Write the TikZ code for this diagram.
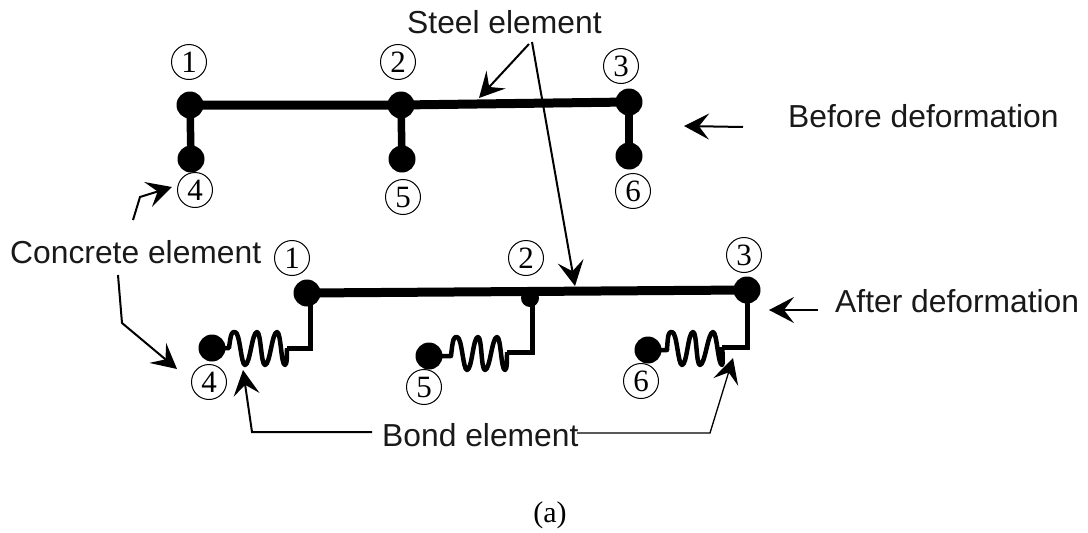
\documentclass[tikz,border=0pt]{standalone}
\usepackage{fontspec}
\setmainfont{Liberation Serif}
\newfontfamily\lab{Liberation Sans}
\usetikzlibrary{arrows.meta}
\tikzset{
  x=1pt,y=-1pt,
  lbl/.style={font=\lab\fontsize{31.8}{34}\selectfont,inner sep=0pt,anchor=base west,text=black!90},
  num/.style={circle,draw,line width=1pt,minimum size=35pt,inner sep=0pt,font=\fontsize{31}{32}\selectfont},
  joint/.style={circle,fill=black,minimum size=27pt,inner sep=0pt},
  smalljoint/.style={circle,fill=black,minimum size=18pt,inner sep=0pt},
  bar/.style={line width=9pt},
  rod/.style={line width=7.5pt},
  stem/.style={line width=5pt,line join=miter},
  springline/.style={line width=4.5pt,line join=round},
  ann/.style={line width=2pt,-{Stealth[length=25pt,width=26pt,inset=10pt]},line join=miter},
  annthin/.style={line width=1.3pt,-{Stealth[length=25pt,width=26pt,inset=10pt]}},
}
\newcommand{\dg}[1]{\raisebox{-2pt}{#1}}
\begin{document}
\begin{tikzpicture}
\useasboundingbox (0,0) rectangle (1088,533);
% top row
\node[joint] (t1) at (190,105) {};
\node[joint] (t2) at (401,105) {};
\node[joint] (t3) at (629,102) {};
\node[joint] (t4) at (191,159) {};
\node[joint] (t5) at (402,159) {};
\node[joint] (t6) at (629,156) {};
\draw[bar] (t1.center) -- (t2.center) -- (t3.center);
\draw[rod] (t1.center) -- (t4.center);
\draw[rod] (t2.center) -- (t5.center);
\draw[rod] (t3.center) -- (t6.center);
\node[num] (n1) at (189,62) {\dg{1}};
\node[num] (n2) at (398,62) {\dg{2}};
\node[num] (n3) at (621,66) {\dg{3}};
\node[num] (n4) at (195,190) {\dg{4}};
\node[num] (n5) at (403,197) {\dg{5}};
\node[num] (n6) at (633,191) {\dg{6}};
% bottom row
\node[joint] (b1) at (307,293) {};
\node[smalljoint] (b2) at (530,298) {};
\node[joint] (b3) at (747,290) {};
\node[joint] (b4) at (212,348) {};
\node[joint] (b5) at (429,356) {};
\node[joint] (b6) at (648,350) {};
\draw[bar] (b1.center) -- (b3.center);
\node[num] (m1) at (292,258) {\dg{1}};
\node[num] (m2) at (526,258) {\dg{2}};
\node[num] (m3) at (744,255) {\dg{3}};
\node[num] (m4) at (209,382) {\dg{4}};
\node[num] (m5) at (424,387) {\dg{5}};
\node[num] (m6) at (641,381) {\dg{6}};
% springs
\coordinate (s1) at (310,348);
\coordinate (s2) at (532,352);
\coordinate (s3) at (747,347);
\draw[stem] (b1.center -| s1) -- (s1) -- (287,348);
\draw[stem] (b2.center -| s2) -- (s2) -- (507,352);
\draw[stem] (b3.center) -- (s3) -- (722,347);
\draw[springline] (b4.center) -- (229,348) .. controls (231,332) and (232,332) .. (235,332) .. controls (240,332) and (241,365) .. (245,365) .. controls (250,365) and (252,332) .. (257,332) .. controls (261,332) and (261,365) .. (265,365) .. controls (270,365) and (272,332) .. (277,332) .. controls (281,332) and (281,365) .. (285,365) .. controls (287,365) and (287,355) .. (287,348);
\draw[springline] (b5.center) -- (451,356) .. controls (453,337) and (454,337) .. (457,337) .. controls (462,337) and (463,370) .. (467,370) .. controls (472,370) and (473,337) .. (478,337) .. controls (482,337) and (481,370) .. (485,370) .. controls (490,370) and (492,337) .. (497,337) .. controls (501,337) and (501,370) .. (505,370) .. controls (507,370) and (507,360) .. (507,352);
\draw[springline] (b6.center) -- (667,350) .. controls (668,332) and (669,332) .. (672,332) .. controls (677,332) and (678,365) .. (682,365) .. controls (687,365) and (688,332) .. (693,332) .. controls (697,332) and (696,365) .. (700,365) .. controls (705,365) and (708,332) .. (713,332) .. controls (717,332) and (718,365) .. (722,365) .. controls (723,365) and (723,355) .. (722,347);
% labels
\node[lbl] (steel) at (407,33) {Steel element};
\node[lbl] (before) at (788,127) {Before deformation};
\node[lbl] (after) at (835,312) {After deformation};
\node[lbl] (concrete) at (10,263) {Concrete element};
\node[lbl] (bond) at (382,446) {Bond element};
\node[font=\fontsize{30}{32}\selectfont,inner sep=0pt,anchor=base] (a) at (550,522) {(a)};
% annotations
\coordinate (fork) at (532,42);
\coordinate (forkL) at (529,44);
\coordinate (steelT1) at (479,98);
\coordinate (steelT2) at (575,286);
\draw[ann] (forkL) -- (steelT1);
\draw[ann] (fork) -- (steelT2);
\coordinate (beforeS) at (743,127);
\coordinate (beforeT) at (684,126);
\draw[ann] (beforeS) -- (beforeT);
\coordinate (afterS) at (818,310);
\coordinate (afterT) at (769,310);
\draw[ann] (afterS) -- (afterT);
\coordinate (cA) at (133,220);
\coordinate (cB) at (140,197);
\coordinate (cT) at (172,187);
\draw[ann] (cA) -- (cB) -- (cT);
\coordinate (dA) at (118,275);
\coordinate (dB) at (122,323);
\coordinate (dT) at (177,369);
\draw[ann] (dA) -- (dB) -- (dT);
\coordinate (eS) at (372,432);
\coordinate (eB) at (252,432);
\coordinate (eT) at (243,370);
\draw[ann] (eS) -- (eB) -- (eT);
\coordinate (fS) at (577,433);
\coordinate (fB) at (710,433);
\coordinate (fT) at (733,358);
\draw[annthin] (fS) -- (fB) -- (fT);
\end{tikzpicture}
\end{document}
